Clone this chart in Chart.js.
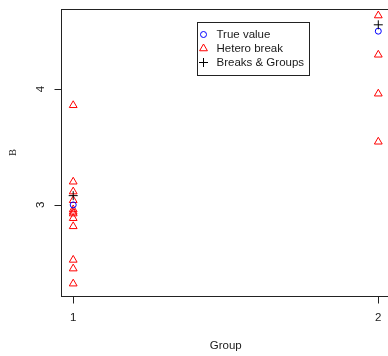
<!DOCTYPE html>
<html>
<head>
<meta charset="utf-8">
<script src="https://cdn.jsdelivr.net/npm/chart.js@4/dist/chart.umd.min.js"></script>
<style>
  html, body { margin: 0; padding: 0; background: #fff; overflow: hidden; }
  #wrap { width: 388px; height: 356px; overflow: hidden; }
  canvas { display: block; }
</style>
</head>
<body>
<div id="wrap"><canvas id="c" width="400" height="356" style="width:400px;height:356px"></canvas></div>
<script>
// Groups on the x axis
const groups = [1, 2];
// Estimates of B for each group, by method
const trueValue = [3.0, 4.5];
const breaksGroups = [3.08, 4.555];
const heteroGroup1 = [3.86, 3.20, 3.115, 3.04, 2.96, 2.94, 2.925, 2.885, 2.815, 2.525, 2.45, 2.32];
const heteroGroup2 = [4.635, 4.296, 3.96, 3.545];
// Axis ticks and labels
const xTicks = [1, 2];
const yTicks = [3, 4];
const xTitle = 'Group';
const yTitle = 'B';
const legendLabels = ['True value', 'Hetero break', 'Breaks & Groups'];

const heteroPoints = [
  ...heteroGroup1.map(v => ({ x: groups[0], y: v })),
  ...heteroGroup2.map(v => ({ x: groups[1], y: v }))
];
const truePoints = groups.map((g, i) => ({ x: g, y: trueValue[i] }));
const bgPoints = groups.map((g, i) => ({ x: g, y: breaksGroups[i] }));

const TEXT = '#1a1a1a';
const SANS = '"Liberation Sans", Arial, sans-serif';

function symbol(ctx, kind, x, y) {
  ctx.save();
  ctx.lineWidth = 1;
  ctx.beginPath();
  if (kind === 'circle') {
    ctx.strokeStyle = '#0000ff';
    ctx.arc(x, y, 3, 0, Math.PI * 2);
  } else if (kind === 'triangle') {
    ctx.strokeStyle = '#ff0000';
    const r = 4.5;
    ctx.moveTo(x, y - r);
    ctx.lineTo(x + r * Math.sin(2 * Math.PI / 3), y + r / 2);
    ctx.lineTo(x - r * Math.sin(2 * Math.PI / 3), y + r / 2);
    ctx.closePath();
  } else {
    ctx.strokeStyle = '#000000';
    ctx.moveTo(x - 4.5, y); ctx.lineTo(x + 4.5, y);
    ctx.moveTo(x, y - 4.5); ctx.lineTo(x, y + 4.5);
  }
  ctx.stroke();
  ctx.restore();
}

// Frame, axes, titles and legend in base-graphics style
const frame = {
  id: 'frame',
  afterDatasetsDraw(chart) {
    const { ctx, chartArea: a, scales: { x, y } } = chart;
    ctx.save();
    ctx.strokeStyle = '#222';
    ctx.lineWidth = 1;
    ctx.strokeRect(Math.round(a.left) + 0.5, Math.round(a.top) + 0.5,
                   Math.round(a.right - a.left), Math.round(a.bottom - a.top));

    ctx.fillStyle = TEXT;
    ctx.font = '11.5px ' + SANS;
    ctx.textAlign = 'center';
    ctx.textBaseline = 'middle';

    // x axis ticks
    const bx = Math.round(a.bottom) + 0.5;
    ctx.beginPath();
    ctx.moveTo(x.getPixelForValue(xTicks[0]), bx);
    ctx.lineTo(x.getPixelForValue(xTicks[xTicks.length - 1]), bx);
    xTicks.forEach(t => {
      const px = Math.round(x.getPixelForValue(t)) + 0.5;
      ctx.moveTo(px, bx); ctx.lineTo(px, bx + 7);
    });
    ctx.stroke();
    xTicks.forEach(t => ctx.fillText(String(t), x.getPixelForValue(t), 318));
    ctx.fillText(xTitle, (a.left + a.right) / 2, 346);

    // y axis ticks
    const lx = Math.round(a.left) + 0.5;
    ctx.beginPath();
    yTicks.forEach(t => {
      const py = Math.round(y.getPixelForValue(t)) + 0.5;
      ctx.moveTo(lx, py); ctx.lineTo(lx - 7, py);
    });
    ctx.stroke();
    yTicks.forEach(t => {
      ctx.save();
      ctx.translate(41, y.getPixelForValue(t));
      ctx.rotate(-Math.PI / 2);
      ctx.fillText(String(t), 0, 0);
      ctx.restore();
    });
    ctx.save();
    ctx.font = '10.5px "Liberation Serif", serif';
    ctx.translate(13.5, (a.top + a.bottom) / 2);
    ctx.rotate(-Math.PI / 2);
    ctx.fillText(yTitle, 0, 0);
    ctx.restore();

    // legend
    ctx.fillStyle = '#fff';
    ctx.fillRect(197, 22, 112, 53);
    ctx.strokeStyle = '#222';
    ctx.strokeRect(197.5, 22.5, 112, 53);
    const kinds = ['circle', 'triangle', 'cross'];
    ctx.fillStyle = TEXT;
    ctx.textAlign = 'left';
    legendLabels.forEach((lab, i) => {
      const ly = 34.5 + i * 14;
      symbol(ctx, kinds[i], 203.5, ly);
      ctx.fillText(lab, 216.5, ly + 0.5);
    });
    ctx.restore();
  }
};

new Chart(document.getElementById('c'), {
  type: 'scatter',
  data: {
    datasets: [
      { label: legendLabels[2], data: bgPoints, pointStyle: 'cross', pointRadius: 4.5,
        borderColor: '#000000', backgroundColor: 'transparent', borderWidth: 1 },
      { label: legendLabels[0], data: truePoints, pointStyle: 'circle', pointRadius: 3,
        borderColor: '#0000ff', backgroundColor: 'transparent', borderWidth: 1 },
      { label: legendLabels[1], data: heteroPoints, pointStyle: 'triangle', pointRadius: 4.5,
        borderColor: '#ff0000', backgroundColor: 'transparent', borderWidth: 1 }
    ]
  },
  options: {
    responsive: false,
    animation: false,
    layout: { padding: { left: 61, top: 9, right: 9.5, bottom: 60 } },
    plugins: { legend: { display: false }, tooltip: { enabled: false } },
    elements: { point: { hoverRadius: 4.5 } },
    scales: {
      x: { type: 'linear', display: false, min: 0.96, max: 2.04 },
      y: { type: 'linear', display: false, min: 2.2135, max: 4.6914 }
    }
  },
  plugins: [frame]
});
</script>
</body>
</html>
